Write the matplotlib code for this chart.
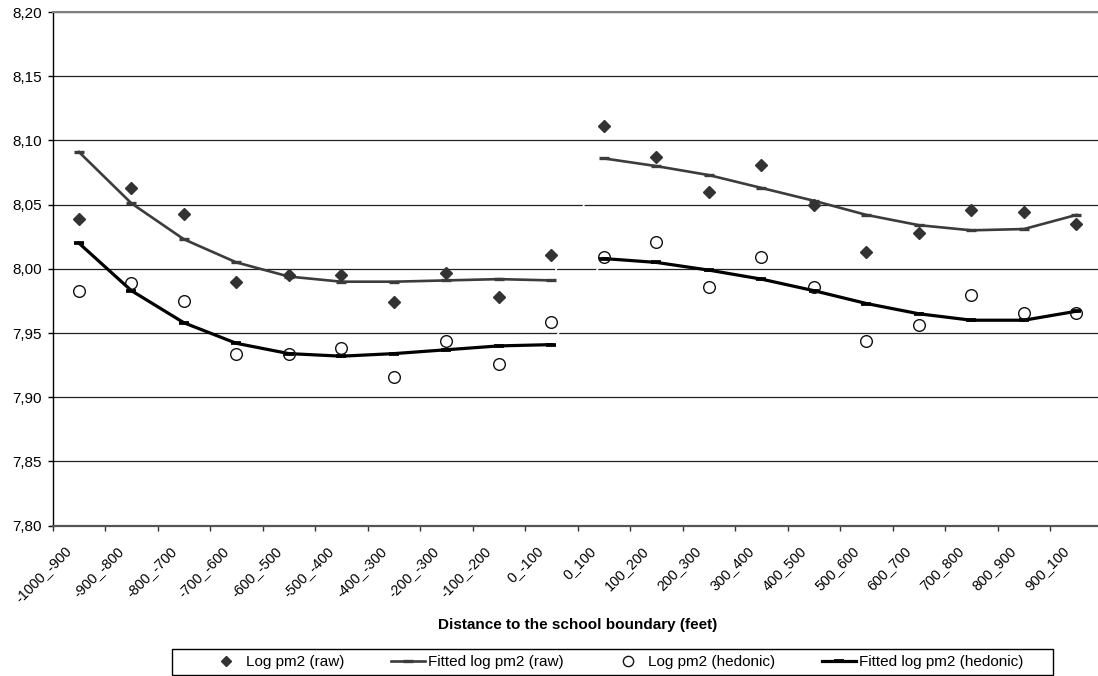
import matplotlib
matplotlib.use('Agg')
import matplotlib.pyplot as plt
import matplotlib.transforms as mtransforms
from matplotlib.lines import Line2D
from matplotlib.patches import Rectangle
from matplotlib.ticker import FuncFormatter
import numpy as np

plt.rcParams['font.family'] = ['Liberation Sans', 'DejaVu Sans']

categories = ['-1000_-900', '-900_-800', '-800_-700', '-700_-600', '-600_-500',
              '-500_-400', '-400_-300', '-200_-300', '-100_-200', '0_-100',
              '0_100', '100_200', '200_300', '300_400', '400_500',
              '500_600', '600_700', '700_800', '800_900', '900_100']

log_raw = [8.039, 8.063, 8.043, 7.990, 7.995, 7.995, 7.974, 7.997, 7.978, 8.011,
           8.111, 8.087, 8.060, 8.081, 8.050, 8.013, 8.028, 8.046, 8.044, 8.035]
fit_raw = [8.091, 8.051, 8.023, 8.005, 7.994, 7.990, 7.990, 7.991, 7.992, 7.991,
           8.086, 8.080, 8.073, 8.063, 8.053, 8.042, 8.034, 8.030, 8.031, 8.042]
log_hed = [7.983, 7.989, 7.975, 7.934, 7.934, 7.938, 7.916, 7.944, 7.926, 7.959,
           8.009, 8.021, 7.986, 8.009, 7.986, 7.944, 7.956, 7.980, 7.966, 7.966]
fit_hed = [8.020, 7.983, 7.958, 7.942, 7.934, 7.932, 7.934, 7.937, 7.940, 7.941,
           8.008, 8.005, 7.999, 7.992, 7.983, 7.973, 7.965, 7.960, 7.960, 7.967]

split = 10  # fitted lines break at the school boundary

W, H = 1098, 676
fig = plt.figure(figsize=(W / 100, H / 100), dpi=100)
ax = fig.add_axes([52.7 / W, (H - 525.7) / H, 1050 / W, 513.7 / H])

x = np.arange(len(categories))

# white connector across the boundary gap (as in the original)
for fit in (fit_raw, fit_hed):
  ax.plot(x[split - 1:split + 1], fit[split - 1:split + 1], color='white',
          lw=1.2, zorder=2.2)

ax.plot(x, log_raw, ls='none', marker='D', ms=6.4, color='#333333', zorder=4)
for sl in (slice(0, split), slice(split, None)):
  ax.plot(x[sl], fit_raw[sl], color='#3c3c3c', lw=1.9, marker='_', ms=7,
          mew=2.4, zorder=3)
ax.plot(x, log_hed, ls='none', marker='o', ms=8.4, mfc='none', mec='#111111',
        mew=1.0, zorder=4)
for sl in (slice(0, split), slice(split, None)):
  ax.plot(x[sl], fit_hed[sl], color='black', lw=2.3, marker='_', ms=7,
          mew=2.7, zorder=3)

ax.set_xlim(-0.5, len(categories) - 0.5)
ax.set_ylim(7.80, 8.20)
ax.set_yticks(np.arange(7.80, 8.2001, 0.05))
ax.yaxis.set_major_formatter(FuncFormatter(lambda v, p: f'{v:.2f}'.replace('.', ',')))
ax.yaxis.grid(True, color='#222222', lw=0.9, zorder=1)
ax.set_axisbelow(True)

# tick marks on category boundaries, labels on category centres
ax.set_xticks(np.arange(-0.5, len(categories), 1.0))
ax.set_xticklabels([])
ax.set_xticks(x, minor=True)
ax.set_xticklabels(categories, minor=True, rotation=45, ha='right',
                   va='center', rotation_mode='anchor', fontsize=10.4)
ax.tick_params(axis='x', which='major', length=3.6, width=1, color='#333333')
ax.tick_params(axis='x', which='minor', length=0, pad=16.5)
ax.tick_params(axis='y', length=3.6, width=1, pad=4.3, labelsize=11)
shift = mtransforms.ScaledTranslation(-10 / 100, 0, fig.dpi_scale_trans)
for lbl in ax.xaxis.get_minorticklabels():
  lbl.set_transform(lbl.get_transform() + shift)

ax.spines['right'].set_visible(False)
ax.spines['top'].set_color('#808080')
ax.spines['top'].set_linewidth(1.5)
ax.spines['bottom'].set_color('#555555')
ax.spines['bottom'].set_linewidth(1.6)
ax.spines['left'].set_color('black')
ax.spines['left'].set_linewidth(1.0)

fig.text((52.7 + 525) / W, (H - 625) / H, 'Distance to the school boundary (feet)',
         ha='center', va='center', fontsize=11, fontweight='bold')

handles = [
  Line2D([], [], ls='none', marker='D', ms=5.4, color='#333333'),
  Line2D([], [], color='#3c3c3c', lw=1.9, marker='_', ms=7, mew=2.4),
  Line2D([], [], ls='none', marker='o', ms=7.4, mfc='none', mec='#111111', mew=1.0),
  Line2D([], [], color='black', lw=2.3, marker='_', ms=7, mew=2.7),
]
labels = ['Log pm2 (raw)', 'Fitted log pm2 (raw)', 'Log pm2 (hedonic)',
          'Fitted log pm2 (hedonic)']
fig.legend(handles, labels, ncol=4, frameon=False, fontsize=11, loc='center',
           bbox_to_anchor=(616 / W, (H - 662) / H), handlelength=2.2,
           handletextpad=0.2, columnspacing=3.1, numpoints=1,
           borderpad=0, borderaxespad=0)
fig.patches.append(Rectangle((171.7 / W, 1.0 / H), (1053 - 171.7) / W, 26 / H,
                             transform=fig.transFigure, fill=False,
                             edgecolor='black', lw=1.0))

fig.savefig('out.png', dpi=100)
